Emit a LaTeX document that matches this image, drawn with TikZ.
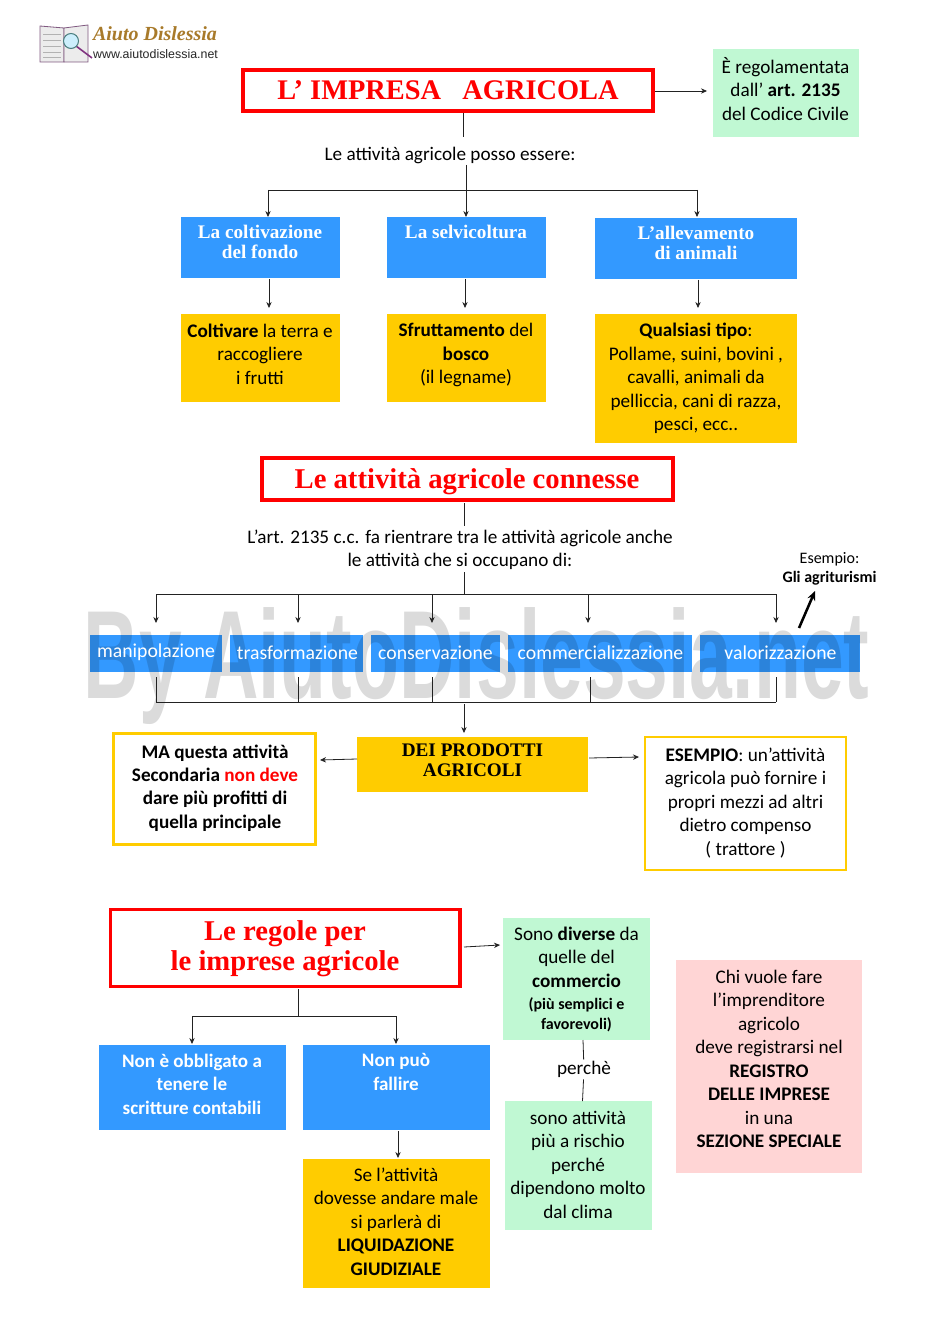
\documentclass[tikz,border=0pt]{standalone}
\usepackage{fontspec}
\setmainfont{Carlito}
\newfontfamily\serifb[Ligatures=TeX]{Liberation Serif}
\newfontfamily\arialf{Liberation Sans}
\usetikzlibrary{arrows.meta}
\definecolor{bluebox}{HTML}{3399FF}
\definecolor{yelbox}{HTML}{FFCC00}
\definecolor{grnbox}{HTML}{C0F8D3}
\definecolor{pinkbox}{HTML}{FFD5D5}
\definecolor{redc}{HTML}{FF0000}
\definecolor{lnk}{HTML}{222222}
\definecolor{goldc}{HTML}{A87A2A}
\newcommand{\smb}[1]{{\bfseries\fontsize{12pt}{14.6pt}\selectfont #1}}
\tikzset{
 body/.style={font=\fontsize{14.4pt}{17.6pt}\selectfont,align=center,text=black},
 titlebox/.style={draw=redc,line width=2.4pt,fill=white},
 titletext/.style={font=\serifb\bfseries,text=redc,align=center},
 serifhead/.style={font=\serifb\bfseries\fontsize{14.4pt}{15pt}\selectfont,align=center,text=white},
 bluetext/.style={font=\fontsize{14.8pt}{17.6pt}\selectfont,align=center,text=white},
 bluebold/.style={font=\bfseries\fontsize{14.3pt}{17.6pt}\selectfont,align=center,text=white},
 chain/.style={line width=0.6pt,draw=lnk},
 arrowline/.style={chain,-{Stealth[length=4.5pt,width=4pt]}},
 bluefill/.style={fill=bluebox,draw=none},
 yelfill/.style={fill=yelbox,draw=none},
 grnfill/.style={fill=grnbox,draw=none},
 pinkfill/.style={fill=pinkbox,draw=none},
 yelframe/.style={draw=yelbox,line width=2.2pt,fill=white},
}
\begin{document}
\begin{tikzpicture}[x=0.75pt,y=-0.75pt]
\useasboundingbox (0,0) rectangle (950,1344);
\fill[white] (0,0) rectangle (950,1344);
% logo
\path[draw=gray!70!violet,fill=gray!15,line width=0.6pt] (40,26) -- (64,28) -- (64,62) -- (40,62) -- cycle;
\path[draw=gray!70!violet,fill=gray!15,line width=0.6pt] (64,28) -- (88,25) -- (88,62) -- (64,62) -- cycle;
\foreach \yy in {34,40,46,52,57}{
 \draw[gray!60,line width=0.4pt] (43,\yy) -- (61,\yy);
}
\draw[violet!60!gray,line width=1.2pt] (76,46) -- (92,58);
\path[draw=gray!60!teal,fill=cyan!20,line width=0.8pt] (71,41) circle (7.5);
\node[inner sep=0pt,text=goldc] (logoa) at (155,34) {\serifb\bfseries\itshape\fontsize{15pt}{15pt}\selectfont Aiuto Dislessia};
\node[inner sep=0pt,text=black!85] (logob) at (155.5,54) {\arialf\fontsize{9.3pt}{10pt}\selectfont www.aiutodislessia.net};
% titolo 1
\path[titlebox] (243,70) rectangle (653,111);
\node[titletext,font=\serifb\bfseries\fontsize{21.3pt}{24pt}\selectfont] (title1) at (448,90) {L’ IMPRESA\ \ \ AGRICOLA};
\path[grnfill] (713,49) rectangle (859,137);
\node[body] (reg) at (785.5,89) {È regolamentata\\dall’ \textbf{art. 2135}\\del Codice Civile};
\coordinate (title1e) at (655,91);
\coordinate (rege) at (707,91);
\draw[arrowline] (title1e) -- (rege);
\node[body] (posso) at (450,155.5) {Le attività agricole posso essere:};
\coordinate (t1s) at (463,113);
\coordinate (possoN) at (463,137);
\draw[chain] (t1s) -- (possoN);
% tre rami
\coordinate (possoS) at (466,165);
\coordinate (bc) at (466,190);
\coordinate (bl) at (268,190);
\coordinate (br) at (697,190);
\coordinate (bct) at (466,217);
\coordinate (blt) at (268,217);
\coordinate (brt) at (697,217);
\path[bluefill] (181,217) rectangle (340,278);
\path[bluefill] (387,217) rectangle (546,278);
\path[bluefill] (595,218) rectangle (797,279);
\node[serifhead] (h1) at (260,242) {La coltivazione\\del fondo};
\node[serifhead] (h2) at (466,232) {La selvicoltura};
\node[serifhead] (h3) at (696,243) {L’allevamento\\di animali};
\draw[chain] (bl) -- (br);
\draw[arrowline] (possoS) -- (bct);
\draw[arrowline] (bl) -- (blt);
\draw[arrowline] (br) -- (brt);
\path[yelfill] (181,314) rectangle (340,402);
\path[yelfill] (387,314) rectangle (546,402);
\path[yelfill] (595,314) rectangle (797,443);
\node[body] (d1) at (260,354) {\textbf{Coltivare} la terra e\\raccogliere\\i frutti};
\node[body] (d2) at (466,355) {\textbf{Sfruttamento} del\\\textbf{bosco}\\(il legname)};
\node[body] (d3) at (696,378.5) {\textbf{Qualsiasi tipo}:\\Pollame, suini, bovini ,\\cavalli, animali da\\pelliccia, cani di razza,\\pesci, ecc..};
\coordinate (a1s) at (269,279); \coordinate (a1e) at (269,308);
\coordinate (a2s) at (465,279); \coordinate (a2e) at (465,308);
\coordinate (a3s) at (698,280); \coordinate (a3e) at (698,308);
\draw[arrowline] (a1s) -- (a1e);
\draw[arrowline] (a2s) -- (a2e);
\draw[arrowline] (a3s) -- (a3e);
% titolo 2
\path[titlebox] (262,458) rectangle (673,500);
\node[titletext,font=\serifb\bfseries\fontsize{21.5pt}{24pt}\selectfont] (title2) at (467,481.5) {Le attività agricole connesse};
\coordinate (t2s) at (464,503); \coordinate (t2e) at (464,526);
\draw[chain] (t2s) -- (t2e);
\node[body] (art) at (460,550) {L’art. 2135 c.c. fa rientrare tra le attività agricole anche\\le attività che si occupano di:};
\node[font=\fontsize{12pt}{14.2pt}\selectfont,align=center] (esem) at (829.5,568.5) {Esempio:\\\textbf{Gli agriturismi}};
\coordinate (up1) at (799,628); \coordinate (up2) at (815,591);
\draw[line width=1.9pt,-{Stealth[length=7pt,width=6pt]}] (up1) -- (up2);
% riga blu
\path[bluefill] (90,635) rectangle (222,672);
\path[bluefill] (230,635) rectangle (363,672);
\path[bluefill] (371,635) rectangle (500,672);
\path[bluefill] (508,635) rectangle (692,672);
\path[bluefill] (700,635) rectangle (860,672);
% filigrana
\node[inner sep=0pt,text=black,text opacity=0.14,xscale=0.655,yscale=1.07] (wm) at (476.5,666) {\arialf\bfseries\fontsize{88pt}{90pt}\selectfont By AiutoDislessia.net};
\node[bluetext,inner sep=0pt] (m1) at (156,652.5) {manipolazione};
\node[bluetext,inner sep=0pt] (m2) at (297.5,652.5) {trasformazione};
\node[bluetext,inner sep=0pt] (m3) at (435.5,652.5) {conservazione};
\node[bluetext,inner sep=0pt] (m4) at (600.5,652.5) {commercializzazione};
\node[bluetext,inner sep=0pt] (m5) at (780.5,652.5) {valorizzazione};
% collegamenti alto
\coordinate (artS) at (464,572); \coordinate (t0) at (464,594);
\coordinate (tl) at (156,594); \coordinate (tr) at (776,594);
\draw[chain] (artS) -- (t0);
\draw[chain] (tl) -- (tr);
\foreach \n/\xx in {p1/156,p2/298,p3/432,p4/588,p5/776}{
 \coordinate (\n a) at (\xx,594); \coordinate (\n b) at (\xx,623);
 \draw[arrowline] (\n a) -- (\n b);
}
% collegamenti basso
\coordinate (bl2) at (156,702); \coordinate (br2) at (776,702);
\draw[chain] (bl2) -- (br2);
\foreach \n/\xx in {q1/156,q2/298,q3/432,q4/590,q5/776}{
 \coordinate (\n a) at (\xx,677); \coordinate (\n b) at (\xx,702);
 \draw[chain] (\n a) -- (\n b);
}
\coordinate (dw1) at (464,704); \coordinate (dw2) at (464,733);
\draw[arrowline] (dw1) -- (dw2);
% prodotti
\path[yelfill] (357,737) rectangle (588,792);
\node[font=\serifb\bfseries\fontsize{14.4pt}{15pt}\selectfont,align=center] (prod) at (472.5,760) {DEI PRODOTTI\\AGRICOLI};
\path[yelframe] (113.5,733.5) rectangle (315.5,844.5);
\node[body,font=\bfseries\fontsize{14.4pt}{17.6pt}\selectfont] (ma) at (215,788) {MA questa attività\\Secondaria \textcolor{redc}{non deve}\\dare più profitti di\\quella principale};
\path[yelframe] (645,737) rectangle (846,870);
\node[body] (es) at (745.5,803) {\textbf{ESEMPIO}: un’attività\\agricola può fornire i\\propri mezzi ad altri\\dietro compenso\\( trattore )};
\coordinate (la) at (357,759); \coordinate (lb) at (320,760);
\coordinate (ra) at (589,758); \coordinate (rb) at (639,757);
\draw[arrowline] (la) -- (lb);
\draw[arrowline] (ra) -- (rb);
% titolo 3
\path[titlebox] (110.5,909.5) rectangle (460,986.5);
\node[titletext,font=\serifb\bfseries\fontsize{21.5pt}{22.5pt}\selectfont] (title3) at (285,949) {Le regole per\\le imprese agricole};
\coordinate (ga) at (464,947); \coordinate (gb) at (500,945);
\draw[arrowline] (ga) -- (gb);
\path[grnfill] (503,918) rectangle (650,1040);
\node[body] (div) at (576.5,979) {Sono \textbf{diverse} da\\quelle del\\\textbf{commercio}\\[-1.1pt]\smb{(più semplici e}\\[-2.6pt]\smb{favorevoli)}};
\node[body,inner sep=1pt] (perche) at (584,1069.5) {perchè};
\path[grnfill] (505,1101) rectangle (652,1230);
\node[body] (ris) at (578,1164.5) {sono attività\\più a rischio\\perché\\dipendono molto\\dal clima};
\coordinate (pa) at (583,1040); \coordinate (pb) at (582.5,1101);
\draw[chain] (pa) -- (perche);
\draw[chain] (perche) -- (pb);
\path[pinkfill] (676,960) rectangle (862,1173);
\node[body] (chi) at (769,1059) {Chi vuole fare\\l’imprenditore\\agricolo\\deve registrarsi nel\\\textbf{REGISTRO}\\\textbf{DELLE IMPRESE}\\in una\\\textbf{SEZIONE SPECIALE}};
% ramo basso
\coordinate (s0) at (298,989); \coordinate (s1) at (298,1016);
\coordinate (sl) at (192,1016); \coordinate (sr) at (396,1016);
\coordinate (slb) at (192,1044); \coordinate (srb) at (396,1044);
\draw[chain] (s0) -- (s1);
\draw[chain] (sl) -- (sr);
\draw[arrowline] (sl) -- (slb);
\draw[arrowline] (sr) -- (srb);
\path[bluefill] (99,1045) rectangle (286,1130);
\path[bluefill] (303,1045) rectangle (490,1130);
\node[bluebold] (nb) at (192,1084) {Non è obbligato a\\tenere le\\scritture contabili};
\node[bluebold] (nf) at (396,1072) {Non può\\fallire};
\path[yelfill] (303,1159) rectangle (490,1288);
\node[body] (liq) at (396,1221.5) {Se l’attività\\dovesse andare male\\si parlerà di\\\textbf{LIQUIDAZIONE}\\\textbf{GIUDIZIALE}};
\coordinate (fa) at (398,1131); \coordinate (fb) at (398,1158);
\draw[arrowline] (fa) -- (fb);
\end{tikzpicture}
\end{document}
